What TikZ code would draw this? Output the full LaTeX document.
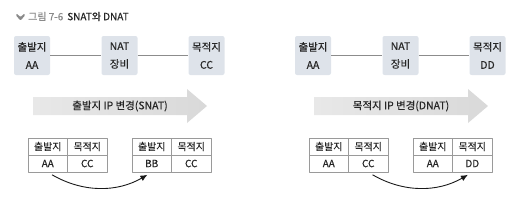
\documentclass[tikz,border=0pt]{standalone}
\usepackage{fontspec}
\setmainfont{Noto Sans CJK KR}[FakeBold=0.35]
\usetikzlibrary{arrows.meta}
\definecolor{hostfill}{HTML}{DEE3EA}
\definecolor{linkgray}{HTML}{8C8C8C}
\definecolor{cellgray}{HTML}{9A9A9A}
\definecolor{titlegray}{HTML}{8A8A8A}

\begin{document}
\begin{tikzpicture}[
  x=1bp,y=-1bp,
  >=Latex,
  line join=round,
  every node/.style={font=\fontsize{10.5}{18}\selectfont,text=black!85},
  host/.style={fill=hostfill,rounded corners=2bp,minimum width=36bp,minimum height=39bp,align=center,inner sep=0pt},
  link/.style={draw=linkgray,line width=0.6bp},
  cell/.style={draw=cellgray,line width=0.6bp,fill=white,minimum width=39.5bp,minimum height=17bp,inner sep=0pt,font=\fontsize{10}{11}\selectfont},
  change/.style={left color=black!9,right color=black!15},
  swap/.style={-{Latex[length=7bp,width=6bp]},line width=0.9bp,black!90,bend right=30,shorten <=5bp,shorten >=5bp}
]
\useasboundingbox (0,0) rectangle (519,201);

% ------------------------------------------------------------------
% Title
% ------------------------------------------------------------------
\fill[titlegray,rounded corners=1bp] (16.5,13.5) -- (20.5,17) -- (24.5,13.5) -- (25,15.5) -- (20.5,20.5) -- (16,15.5) -- cycle;
\node[anchor=west,inner sep=0pt,font=\fontsize{10}{11}\selectfont] (title) at (28,16.5)
  {\textcolor{titlegray}{그림 7-6}\hspace{4bp}SNAT와 DNAT};

% ------------------------------------------------------------------
% Source NAT
% ------------------------------------------------------------------
\begin{scope}[xshift=0bp]
  \node[host] (src) at (32,55.5) {출발지\\AA};
  \node[host] (nat) at (119.5,55.5) {NAT\\장비};
  \node[host] (dst) at (206.5,55.5) {목적지\\CC};
  \draw[link] (src.east) -- (nat.west);
  \draw[link] (nat.east) -- (dst.west);

  \shade[change] (33,97) -- (187,97) -- (187,89) -- (207,106) -- (187,123) -- (187,115) -- (33,115) -- cycle;
  \node (label) at (120,106) {출발지 IP 변경(SNAT)};

  \node[cell] (a1) at (47.75,146.5) {출발지};
  \node[cell] (a2) at (87.25,146.5) {목적지};
  \node[cell] (a3) at (47.75,163.5) {AA};
  \node[cell] (a4) at (87.25,163.5) {CC};

  \node[cell] (b1) at (151.75,146.5) {출발지};
  \node[cell] (b2) at (191.25,146.5) {목적지};
  \node[cell] (b3) at (151.75,163.5) {BB};
  \node[cell] (b4) at (191.25,163.5) {CC};

  \draw[swap] (a3.south) to (b3.south);
\end{scope}

% ------------------------------------------------------------------
% Destination NAT
% ------------------------------------------------------------------
\begin{scope}[xshift=281bp]
  \node[host] (src) at (32,55.5) {출발지\\AA};
  \node[host] (nat) at (119.5,55.5) {NAT\\장비};
  \node[host] (dst) at (206.5,55.5) {목적지\\DD};
  \draw[link] (src.east) -- (nat.west);
  \draw[link] (nat.east) -- (dst.west);

  \shade[change] (33,97) -- (187,97) -- (187,89) -- (207,106) -- (187,123) -- (187,115) -- (33,115) -- cycle;
  \node (label) at (120,106) {목적지 IP 변경(DNAT)};

  \node[cell] (c1) at (47.75,146.5) {출발지};
  \node[cell] (c2) at (87.25,146.5) {목적지};
  \node[cell] (c3) at (47.75,163.5) {AA};
  \node[cell] (c4) at (87.25,163.5) {CC};

  \node[cell] (d1) at (151.75,146.5) {출발지};
  \node[cell] (d2) at (191.25,146.5) {목적지};
  \node[cell] (d3) at (151.75,163.5) {AA};
  \node[cell] (d4) at (191.25,163.5) {DD};

  \draw[swap] (c4.south) to (d4.south);
\end{scope}

\end{tikzpicture}
\end{document}
